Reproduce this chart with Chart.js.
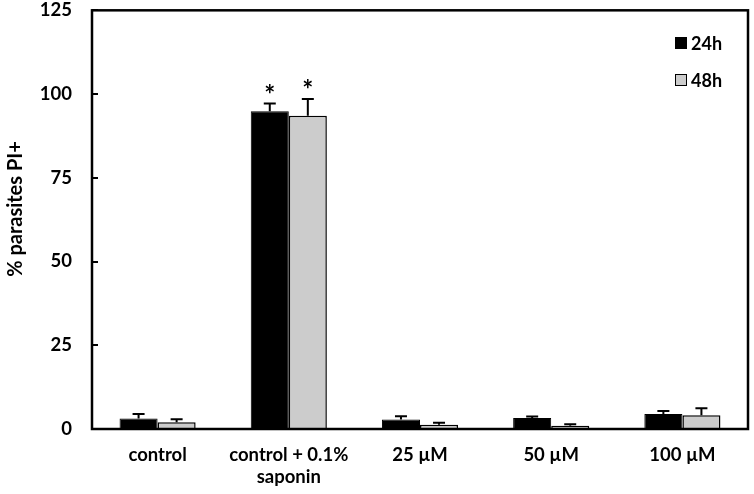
<!DOCTYPE html>
<html>
<head>
<meta charset="utf-8">
<script src="https://cdn.jsdelivr.net/npm/chart.js@4.4.1/dist/chart.umd.min.js"></script>
<style>
  html, body { margin: 0; padding: 0; background: #fff; }
  #wrap { width: 754px; height: 494px; }
</style>
</head>
<body>
<div id="wrap"><canvas id="chart" width="754" height="494"></canvas></div>
<script>
// chart values
const categories = ['control', ['control + 0.1%', 'saponin'], '25 µM', '50 µM', '100 µM'];
const values24 = [3.1, 94.9, 2.8, 3.3, 4.5];
const values48 = [2.0, 93.5, 1.3, 1.0, 4.1];
const err24 = [1.4, 2.3, 1.0, 0.4, 0.9];
const err48 = [0.9, 5.0, 0.6, 0.4, 2.1];
const star24 = [false, true, false, false, false];
const star48 = [false, true, false, false, false];
const yTicks = [0, 25, 50, 75, 100, 125];
const yTitle = '% parasites PI+';

const FONT = 'Lato, "Liberation Sans", sans-serif';

// error bars, significance stars, inward ticks, frame, y title and legend
const extras = {
    id: 'extras',
    afterDatasetsDraw(chart) {
        const ctx = chart.ctx;
        const y = chart.scales.y;
        const errs = [err24, err48];
        const stars = [star24, star48];
        ctx.save();
        chart.data.datasets.forEach((ds, di) => {
            chart.getDatasetMeta(di).data.forEach((bar, i) => {
                const top = y.getPixelForValue(ds.data[i] + errs[di][i]);
                ctx.strokeStyle = '#000';
                ctx.lineWidth = 2;
                ctx.beginPath();
                ctx.moveTo(bar.x, bar.y);
                ctx.lineTo(bar.x, top);
                ctx.moveTo(bar.x - 6, top);
                ctx.lineTo(bar.x + 6, top);
                ctx.stroke();
                if (stars[di][i]) {
                    ctx.fillStyle = '#000';
                    ctx.font = 'bold 26px ' + FONT;
                    ctx.textAlign = 'center';
                    ctx.textBaseline = 'middle';
                    ctx.fillText('*', bar.x, top - 8);
                }
            });
        });
        const a = chart.chartArea;
        // inward ticks on the y axis
        ctx.lineWidth = 2;
        ctx.beginPath();
        yTicks.forEach(t => {
            const py = Math.round(y.getPixelForValue(t));
            ctx.moveTo(a.left, py);
            ctx.lineTo(a.left + 6, py);
        });
        ctx.stroke();
        // frame
        ctx.lineWidth = 2.5;
        ctx.strokeRect(a.left, a.top, a.right - a.left, a.bottom - a.top);
        // y title
        ctx.save();
        ctx.translate(16, 209);
        ctx.rotate(-Math.PI / 2);
        ctx.fillStyle = '#000';
        ctx.font = 'bold 20px ' + FONT;
        ctx.textAlign = 'center';
        ctx.textBaseline = 'middle';
        ctx.fillText(yTitle, 0, 0);
        ctx.restore();
        // legend
        ctx.font = 'bold 18px ' + FONT;
        ctx.textAlign = 'left';
        ctx.textBaseline = 'middle';
        chart.data.datasets.forEach((ds, di) => {
            const ly = 43 + di * 37;
            ctx.fillStyle = ds.backgroundColor;
            ctx.fillRect(675, ly - 6, 12, 12);
            ctx.lineWidth = 1;
            ctx.strokeStyle = '#000';
            ctx.strokeRect(675.5, ly - 5.5, 11, 11);
            ctx.fillStyle = '#000';
            ctx.fillText(ds.label, 691, ly + 1);
        });
        ctx.restore();
    }
};

new Chart(document.getElementById('chart'), {
    type: 'bar',
    data: {
        labels: categories,
        datasets: [{
            label: '24h',
            data: values24,
            backgroundColor: '#000000',
            borderColor: '#000000',
            borderWidth: 1
        }, {
            label: '48h',
            data: values48,
            backgroundColor: '#cccccc',
            borderColor: '#000000',
            borderWidth: 1.5
        }]
    },
    options: {
        responsive: false,
        animation: false,
        layout: { padding: { top: 0, right: 6, left: 0, bottom: 0 } },
        datasets: { bar: { categoryPercentage: 0.58, barPercentage: 1.0 } },
        plugins: {
            legend: { display: false },
            tooltip: { enabled: false }
        },
        scales: {
            x: {
                grid: { display: false, drawTicks: false },
                border: { display: false },
                ticks: {
                    color: '#000',
                    padding: 15,
                    maxRotation: 0,
                    autoSkip: false,
                    font: { family: FONT, size: 18.5, weight: 'bold', lineHeight: 1.2 }
                },
                afterFit(scale) { scale.height = 65; }
            },
            y: {
                min: 0,
                max: 125,
                grid: { display: false, drawTicks: true, tickLength: 18 },
                border: { display: false },
                afterBuildTicks(scale) { scale.ticks = yTicks.map(v => ({ value: v })); },
                ticks: {
                    color: '#000',
                    padding: 2,
                    font: { family: FONT, size: 18.5, weight: 'bold', lineHeight: 0.9 }
                },
                afterFit(scale) { scale.width = 92; }
            }
        }
    },
    plugins: [extras]
});
</script>
</body>
</html>
